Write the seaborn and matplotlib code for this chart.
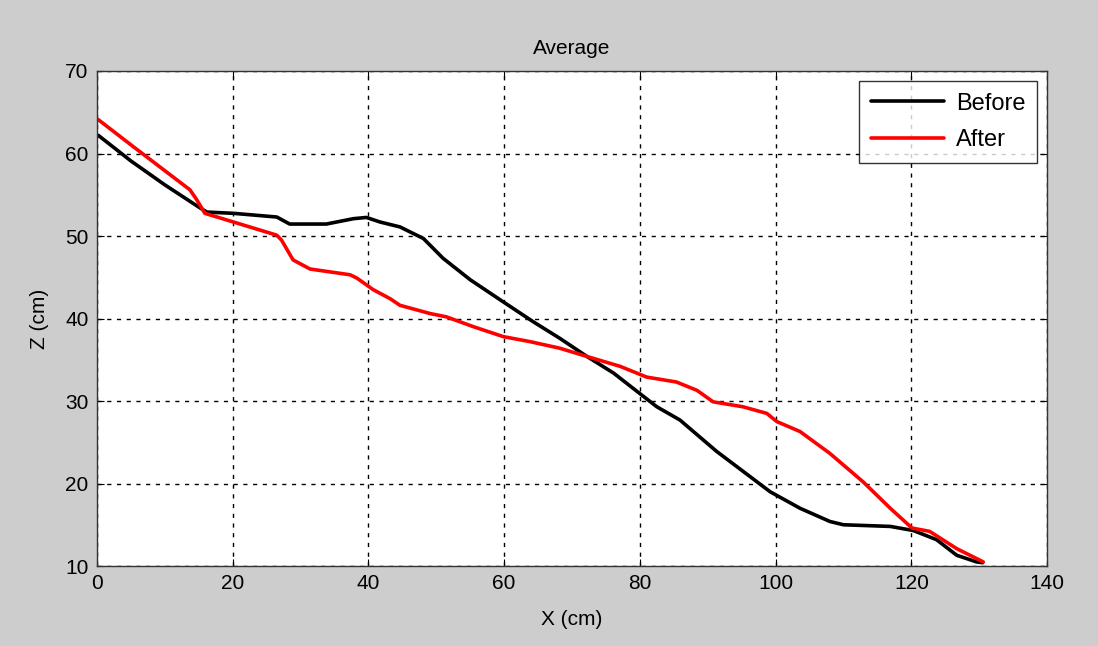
import matplotlib
matplotlib.use("Agg")
import matplotlib.pyplot as plt
import seaborn as sns
import pandas as pd

before_x = [0.2, 5.0, 10.0, 15.2, 16.2, 20.1, 26.5, 28.4, 33.8, 37.8, 39.7, 41.7, 44.65, 48.1,
            51.0, 55.0, 59.9, 64.3, 68.2, 72.2, 76.1, 80.0, 82.5, 85.9, 91.3, 99.2, 103.6,
            108.0, 110.0, 116.9, 120.3, 123.7, 126.7, 129.6, 130.5]
before_z = [62.2, 59.1, 56.2, 53.4, 52.9, 52.75, 52.3, 51.45, 51.45, 52.1, 52.25, 51.7, 51.1, 49.7,
            47.3, 44.7, 42.0, 39.6, 37.6, 35.4, 33.4, 30.9, 29.3, 27.7, 23.9, 19.0, 17.0,
            15.4, 15.0, 14.8, 14.3, 13.2, 11.3, 10.5, 10.4]

after_x = [0.2, 5.4, 13.7, 14.7, 15.9, 20.1, 26.5, 27.2, 28.9, 31.4, 37.3, 38.3, 40.7, 43.2,
           44.65, 49.1, 51.5, 55.5, 59.9, 63.8, 68.2, 72.2, 77.1, 81.0, 85.4, 88.4, 90.8,
           95.2, 98.7, 100.2, 103.6, 108.0, 112.9, 116.9, 120.1, 122.7, 126.7, 130.6]
after_z = [64.1, 60.8, 55.6, 54.4, 52.75, 51.7, 50.1, 49.5, 47.1, 46.0, 45.3, 44.9, 43.5, 42.4,
           41.6, 40.6, 40.2, 39.0, 37.8, 37.2, 36.4, 35.4, 34.2, 32.9, 32.3, 31.3, 29.9,
           29.3, 28.5, 27.5, 26.3, 23.65, 20.2, 17.0, 14.6, 14.2, 12.1, 10.5]

series_names = ["Before", "After"]
colors = {"Before": "black", "After": "red"}

df = pd.concat([
    pd.DataFrame({"x": before_x, "z": before_z, "series": "Before"}),
    pd.DataFrame({"x": after_x, "z": after_z, "series": "After"}),
])

sns.set_style("white")
plt.rcParams["font.family"] = ["Liberation Sans", "DejaVu Sans"]
plt.rcParams["text.color"] = "black"
plt.rcParams["axes.labelcolor"] = "black"

fig = plt.figure(figsize=(10.98, 6.46), dpi=100, facecolor="#cdcdcd")
ax = fig.add_axes([0.0883, 0.1238, 0.8653, 0.7663])
ax.set_facecolor("white")

sns.lineplot(data=df, x="x", y="z", hue="series", hue_order=series_names,
             palette=colors, sort=False, estimator=None, linewidth=2.6, ax=ax)

ax.set_xlim(0, 140)
ax.set_ylim(10, 70)
ax.set_xticks(range(0, 141, 20))
ax.set_yticks(range(10, 71, 10))
ax.grid(True, color="black", linestyle=(0, (3, 4)), linewidth=1.0)
ax.tick_params(direction="in", length=5, labelsize=15, colors="black",
               top=True, right=True, bottom=True, left=True, pad=6)
for s in ax.spines.values():
    s.set_color("#333333")
    s.set_linewidth(1.0)

ax.set_title("Average", fontsize=15, pad=12, color="black")
ax.set_xlabel("X (cm)", fontsize=15, labelpad=12, color="black")
ax.set_ylabel("Z (cm)", fontsize=15, labelpad=12, color="black")

leg = ax.legend(loc="upper right", fontsize=17, frameon=True, fancybox=False,
                edgecolor="black", handlelength=3.1, borderaxespad=0.42,
                borderpad=0.5, labelspacing=0.62, handletextpad=0.5, title=None)
leg.get_frame().set_linewidth(1.0)
for t in leg.get_texts():
    t.set_color("black")

fig.savefig("out.png", dpi=100, facecolor=fig.get_facecolor())
